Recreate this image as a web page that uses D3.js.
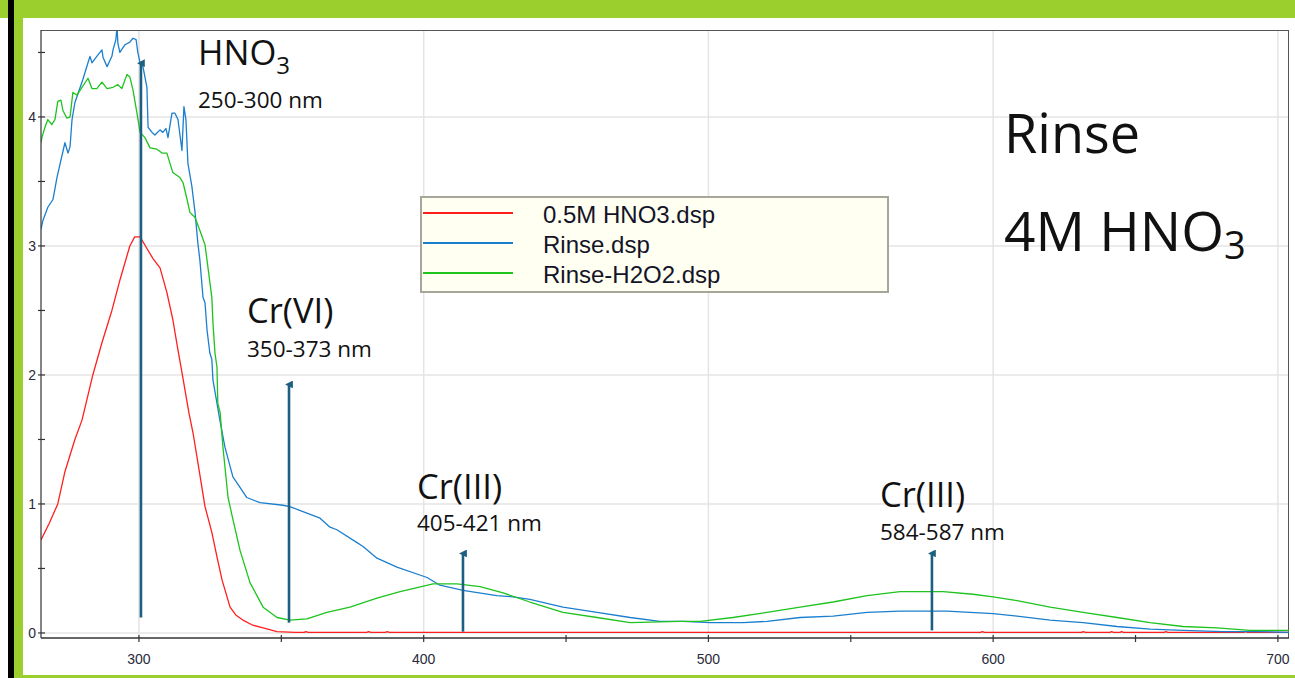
<!DOCTYPE html>
<html>
<head>
<meta charset="utf-8">
<script src="https://cdn.jsdelivr.net/npm/d3@7"></script>
<style>
  body { margin: 0; background: #fff; }
  svg { display: block; }
</style>
</head>
<body>
<div id="chart-area"></div>
<script>
/*
*    UV-Vis spectra : Rinse 4M HNO3
*/

/* The data (wavelength in nm, absorbance) */

const seriesNames = ["0.5M HNO3.dsp", "Rinse.dsp", "Rinse-H2O2.dsp"];

const hno3Nm = [265.6, 268.5, 271.5, 274.0, 277.5, 280.0, 283.8, 287.0, 290.5, 293.5, 296.8, 298.5,
    300.4, 302.8, 305.0, 307.4, 309.8, 311.9, 313.5, 315.1, 317.6, 319.0, 321.0, 323.2, 325.6, 327.5,
    329.2, 332.0, 334.0, 336.5, 340.0, 343.6, 348.5, 355.0, 358.0, 358.6, 359.5, 380.0, 380.6, 381.5,
    386.5, 387.2, 388.0, 450.0, 520.0, 595.5, 596.2, 597.0, 631.0, 631.6, 632.5, 641.0, 641.6, 642.3,
    644.5, 645.1, 645.8, 660.0, 660.7, 661.4, 688.0, 688.6, 689.3, 704.3];
const hno3Abs = [0.72, 0.85, 1.0, 1.25, 1.5, 1.65, 2.0, 2.25, 2.5, 2.75, 3.0, 3.07,
    3.07, 2.98, 2.90, 2.83, 2.64, 2.43, 2.22, 2.02, 1.70, 1.55, 1.28, 0.98, 0.78, 0.58,
    0.41, 0.20, 0.14, 0.10, 0.06, 0.04, 0.01, 0.005, 0.005, 0.011, 0.005, 0.005, 0.011, 0.005,
    0.005, 0.010, 0.005, 0.004, 0.004, 0.004, 0.010, 0.004, 0.004, 0.010, 0.004, 0.004, 0.010, 0.004,
    0.004, 0.010, 0.004, 0.004, 0.010, 0.004, 0.004, 0.010, 0.004, 0.004];

const rinseNm = [265.6, 266.3, 268.0, 269.8, 271.2, 274.0, 275.1, 275.8, 276.5, 277.5, 280.3, 282.1,
    282.8, 283.5, 285.2, 287.0, 287.4, 288.8, 290.5, 290.9, 291.9, 292.3, 292.6, 293.3, 295.1, 296.8,
    297.9, 299.0, 299.6, 300.4, 301.4, 302.8, 303.2, 304.6, 305.6, 307.4, 308.4, 309.5, 310.2, 311.6,
    312.6, 313.7, 315.1, 315.8, 316.5, 317.2, 318.6, 319.7, 320.7, 321.4, 322.5, 323.2, 323.9, 324.9,
    325.6, 326.0, 328.5, 330.2, 333.0, 337.9, 342.5, 350.6, 353.0, 357.6, 363.6, 367.1, 369.5, 376.6,
    378.7, 383.6, 390.6, 401.2, 405.7, 413.8, 425.7, 431.4, 437.3, 448.9, 460.9, 472.5, 483.0, 491.1,
    500.6, 512.2, 520.6, 532.2, 543.8, 555.7, 567.3, 583.8, 600.0, 608.4, 620.0, 631.6, 643.5, 655.1,
    666.7, 680.8, 692.7, 704.3];
const rinseAbs = [3.13, 3.20, 3.30, 3.36, 3.53, 3.80, 3.72, 3.77, 3.98, 4.11, 4.29, 4.42,
    4.47, 4.42, 4.47, 4.52, 4.46, 4.39, 4.47, 4.52, 4.60, 4.70, 4.57, 4.50, 4.56, 4.58,
    4.61, 4.60, 4.50, 4.42, 4.39, 4.23, 3.92, 3.88, 3.86, 3.90, 3.88, 3.91, 3.84, 4.03,
    4.03, 3.98, 3.74, 4.08, 3.98, 3.64, 3.46, 3.26, 3.02, 2.89, 2.60, 2.56, 2.35, 2.17,
    2.12, 1.96, 1.64, 1.44, 1.21, 1.05, 1.01, 0.99, 0.98, 0.94, 0.89, 0.82, 0.80, 0.70,
    0.67, 0.58, 0.51, 0.43, 0.37, 0.33, 0.29, 0.28, 0.26, 0.20, 0.16, 0.12, 0.09, 0.09,
    0.08, 0.08, 0.09, 0.12, 0.13, 0.16, 0.17, 0.17, 0.15, 0.13, 0.10, 0.08, 0.05, 0.03,
    0.02, 0.01, 0.01, 0.005];

const h2o2Nm = [265.6, 265.9, 267.0, 268.0, 269.4, 270.5, 271.5, 272.6, 273.3, 274.7, 275.8, 276.8,
    278.2, 280.0, 282.1, 283.5, 285.2, 287.0, 288.8, 290.9, 292.6, 294.0, 295.8, 296.8, 297.9, 299.3,
    300.4, 302.1, 303.9, 306.3, 308.1, 309.8, 310.9, 311.9, 314.4, 315.5, 316.9, 317.9, 319.7, 321.4,
    323.2, 324.2, 325.6, 326.0, 326.7, 327.4, 327.7, 328.5, 329.5, 331.3, 333.0, 335.5, 339.0, 343.6,
    348.5, 353.0, 359.0, 366.0, 374.1, 383.6, 391.7, 403.3, 411.7, 419.8, 427.9, 437.3, 448.9, 460.9,
    472.5, 490.0, 497.1, 508.6, 520.6, 532.2, 543.8, 555.7, 567.3, 582.4, 592.9, 600.0, 608.4, 620.0,
    631.6, 643.5, 655.1, 666.7, 678.6, 690.2, 704.3];
const h2o2Abs = [3.80, 3.84, 3.92, 3.98, 3.94, 3.98, 4.12, 4.13, 4.05, 3.99, 4.00, 4.19,
    4.17, 4.23, 4.30, 4.22, 4.22, 4.27, 4.22, 4.23, 4.25, 4.22, 4.33, 4.31, 4.21, 4.03,
    3.88, 3.84, 3.76, 3.75, 3.72, 3.72, 3.64, 3.57, 3.53, 3.49, 3.36, 3.26, 3.22, 3.12,
    3.01, 2.84, 2.60, 2.40, 2.17, 2.06, 1.78, 1.71, 1.44, 1.05, 0.88, 0.64, 0.39, 0.20,
    0.12, 0.10, 0.11, 0.16, 0.20, 0.27, 0.32, 0.38, 0.38, 0.36, 0.31, 0.24, 0.16, 0.12,
    0.08, 0.09, 0.09, 0.12, 0.16, 0.20, 0.24, 0.29, 0.32, 0.32, 0.30, 0.28, 0.25, 0.20,
    0.16, 0.12, 0.08, 0.05, 0.04, 0.02, 0.02];

// band markers: wavelength of each arrow, arrow foot and tip (absorbance)
const bandNm = [300.7, 352.7, 413.8, 578.5];
const bandFrom = [0.12, 0.08, 0.01, 0.02];
const bandTo = [4.44, 1.95, 0.64, 0.64];
const bandNames = ["HNO", "Cr(VI)", "Cr(III)", "Cr(III)"];
const bandSubs = ["3", "", "", ""];
const bandRanges = ["250-300 nm", "350-373 nm", "405-421 nm", "584-587 nm"];

const xTicks = [300, 400, 500, 600, 700];
const xMinor = [350, 450, 550, 650];
const yTicks = [0, 1, 2, 3, 4];
const yMinor = [0.5, 1.5, 2.5, 3.5, 4.5];

/* Prep the chart area and colors */

const W = 1295, H = 678;
const PLOT = { LEFT: 41, RIGHT: 1289, TOP: 30, BOTTOM: 638 };
const COLORS = ["#ff1f1f", "#1b7fce", "#1ec31e"];
const ARROW = "#1d5f80";
const GREEN = "#9bcf2d";

const svg = d3.select("#chart-area").append("svg")
    .attr("width", W)
    .attr("height", H)
    .style("font-family", "'Liberation Sans', Arial, sans-serif");

svg.append("rect").attr("width", W).attr("height", H).attr("fill", "#fff");

// slide frame
svg.append("rect").attr("x", 0).attr("y", 0).attr("width", W).attr("height", 18).attr("fill", GREEN);
svg.append("rect").attr("x", 8).attr("y", 0).attr("width", 6).attr("height", H).attr("fill", "#000");
svg.append("rect").attr("x", 14).attr("y", 0).attr("width", 9).attr("height", H).attr("fill", GREEN);
svg.append("rect").attr("x", 14).attr("y", 675).attr("width", W - 14).attr("height", 3).attr("fill", GREEN);

// scales
const x = d3.scaleLinear()
    .domain([265.6, 703.9])
    .range([PLOT.LEFT, PLOT.RIGHT]);

const y = d3.scaleLinear()
    .domain([-0.039, 4.674])
    .range([PLOT.BOTTOM, PLOT.TOP]);

const g = svg.append("g");

// grid
g.selectAll(".ygrid").data(yTicks).enter().append("line")
    .attr("x1", PLOT.LEFT).attr("x2", PLOT.RIGHT)
    .attr("y1", d => y(d)).attr("y2", d => y(d))
    .attr("stroke", "#e4e4e4").attr("stroke-width", 1.5);

g.selectAll(".xgrid").data(xTicks).enter().append("line")
    .attr("x1", d => x(d)).attr("x2", d => x(d))
    .attr("y1", PLOT.TOP).attr("y2", PLOT.BOTTOM)
    .attr("stroke", "#e4e4e4").attr("stroke-width", 1.5);

// plot border
g.append("line").attr("x1", PLOT.LEFT).attr("x2", PLOT.RIGHT).attr("y1", PLOT.TOP + 0.5).attr("y2", PLOT.TOP + 0.5)
    .attr("stroke", "#555");
g.append("line").attr("x1", PLOT.RIGHT - 0.5).attr("x2", PLOT.RIGHT - 0.5).attr("y1", PLOT.TOP).attr("y2", PLOT.BOTTOM)
    .attr("stroke", "#555");

// spectra
svg.append("clipPath").attr("id", "clip")
    .append("rect")
    .attr("x", PLOT.LEFT).attr("y", PLOT.TOP + 1)
    .attr("width", PLOT.RIGHT - PLOT.LEFT).attr("height", PLOT.BOTTOM - PLOT.TOP - 1);

const series = [
    { name: seriesNames[0], nm: hno3Nm, abs: hno3Abs },
    { name: seriesNames[1], nm: rinseNm, abs: rinseAbs },
    { name: seriesNames[2], nm: h2o2Nm, abs: h2o2Abs }
];

const line = d3.line()
    .x(d => x(d[0]))
    .y(d => y(d[1]));

g.append("g").attr("clip-path", "url(#clip)")
    .selectAll("path").data(series).enter().append("path")
    .attr("d", s => line(d3.zip(s.nm, s.abs)))
    .attr("fill", "none")
    .attr("stroke", (s, i) => COLORS[i])
    .attr("stroke-width", 1.3)
    .attr("stroke-linejoin", "round");

// axes lines
g.append("line").attr("x1", PLOT.LEFT).attr("x2", PLOT.RIGHT).attr("y1", PLOT.BOTTOM).attr("y2", PLOT.BOTTOM)
    .attr("stroke", "#333").attr("stroke-width", 1.5);
g.append("line").attr("x1", PLOT.LEFT).attr("x2", PLOT.LEFT).attr("y1", PLOT.TOP).attr("y2", PLOT.BOTTOM)
    .attr("stroke", "#333").attr("stroke-width", 1.2);

// ticks crossing the axes
g.selectAll(".yt").data(yTicks.concat(yMinor)).enter().append("line")
    .attr("x1", PLOT.LEFT - 3).attr("x2", PLOT.LEFT + 4)
    .attr("y1", d => y(d)).attr("y2", d => y(d))
    .attr("stroke", "#333").attr("stroke-width", 1.2);

g.selectAll(".xt").data(xTicks.concat(xMinor)).enter().append("line")
    .attr("x1", d => x(d)).attr("x2", d => x(d))
    .attr("y1", PLOT.BOTTOM - 3).attr("y2", PLOT.BOTTOM + 4)
    .attr("stroke", "#333").attr("stroke-width", 1.2);

g.selectAll(".yl").data(yTicks).enter().append("text")
    .attr("x", PLOT.LEFT - 5)
    .attr("y", d => y(d) + 5)
    .attr("text-anchor", "end")
    .attr("font-size", 14)
    .attr("fill", "#2a2a3a")
    .text(d => d);

g.selectAll(".xl").data(xTicks).enter().append("text")
    .attr("x", d => x(d))
    .attr("y", 664)
    .attr("text-anchor", "middle")
    .attr("font-size", 14)
    .attr("fill", "#2a2a3a")
    .text(d => d);

/* Band arrows and labels */

svg.append("defs").append("marker")
    .attr("id", "head")
    .attr("viewBox", "0 0 10 10")
    .attr("refX", 5).attr("refY", 5)
    .attr("markerWidth", 3).attr("markerHeight", 3)
    .attr("orient", "auto")
    .append("path").attr("d", "M0,10 L5,0 L10,10 Z").attr("fill", ARROW);

g.selectAll(".arrow").data(bandNm).enter().append("line")
    .attr("x1", d => x(d)).attr("x2", d => x(d))
    .attr("y1", (d, i) => y(bandFrom[i]))
    .attr("y2", (d, i) => y(bandTo[i]) + 3)
    .attr("stroke", ARROW)
    .attr("stroke-width", 2.6)
    .attr("marker-end", "url(#head)");

// label layout (pixel anchors of each band label)
const labelPos = [
    { x: 198, y: 65, ry: 108 },
    { x: 247, y: 323, ry: 357 },
    { x: 417, y: 499, ry: 531 },
    { x: 880, y: 507, ry: 540 }
];

const ann = svg.append("g").style("font-family", "'Open Sans', sans-serif").attr("fill", "#111");

bandNames.forEach((name, i) => {
    const t = ann.append("text")
        .attr("x", labelPos[i].x).attr("y", labelPos[i].y)
        .attr("font-size", 34.5);
    t.append("tspan").text(name);
    if (bandSubs[i]) {
        t.append("tspan").attr("font-size", 24).attr("dy", 9).text(bandSubs[i]);
    }
    ann.append("text")
        .attr("x", labelPos[i].x).attr("y", labelPos[i].ry)
        .attr("font-size", 22.5)
        .text(bandRanges[i]);
});

// slide title
ann.append("text").attr("x", 1004).attr("y", 153).attr("font-size", 54).text("Rinse");
const t2 = ann.append("text").attr("x", 1004).attr("y", 251).attr("font-size", 55);
t2.append("tspan").text("4M HNO");
t2.append("tspan").attr("font-size", 38).attr("dy", 8).text("3");

/* Legend */

const legend = svg.append("g").attr("transform", "translate(420,196)");

legend.append("rect")
    .attr("x", 1).attr("y", 1)
    .attr("width", 467).attr("height", 95)
    .attr("fill", "#fffff2")
    .attr("stroke", "#a6a69a")
    .attr("stroke-width", 2);

const items = legend.selectAll(".item").data(seriesNames).enter().append("g")
    .attr("transform", (d, i) => "translate(0," + (17 + i * 30) + ")");

items.append("line")
    .attr("x1", 3).attr("x2", 93)
    .attr("stroke", (d, i) => COLORS[i])
    .attr("stroke-width", 1.8);

items.append("text")
    .attr("x", 123).attr("y", 10)
    .attr("font-size", 24)
    .attr("fill", "#141428")
    .text(d => d);
</script>
</body>
</html>
